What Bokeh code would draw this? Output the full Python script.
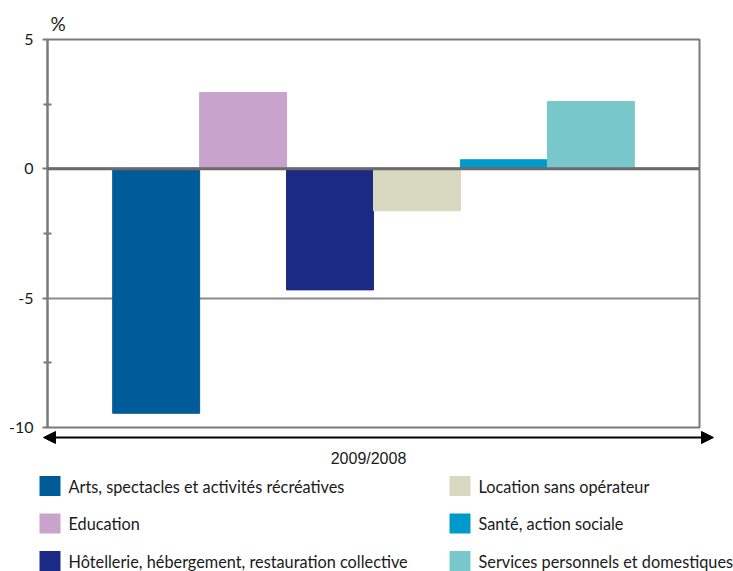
from bokeh.plotting import figure
from bokeh.layouts import column
from bokeh.models import Range1d, FixedTicker, Arrow, NormalHead, Span, ColumnDataSource
from bokeh.core.properties import value
from bokeh.embed import file_html
from bokeh.resources import INLINE

# ---- data ----
categories = [
    "Arts, spectacles et activités récréatives",
    "Education",
    "Hôtellerie, hébergement, restauration collective",
    "Location sans opérateur",
    "Santé, action sociale",
    "Services personnels et domestiques",
]
values = [-9.45, 2.95, -4.68, -1.62, 0.35, 2.6]
colors = ["#005c99", "#c8a4cc", "#1b2a84", "#d7d8c0", "#0099cc", "#78c7cb"]
y_ticks = [-10, -5, 0, 5]
period_label = "2009/2008"
unit_label = "%"

FONT = "Lato"
TOTAL_W, TOTAL_H = 733, 571
TOP_H = 442
OVERLAP = 12
FRAME_L, FRAME_R, FRAME_T, FRAME_B = 47, 699, 39, 427

# ---- main chart ----
src = ColumnDataSource(dict(x=list(range(len(values))), top=values, color=colors, cat=categories))

xr = Range1d(-1.25, len(values) + 0.25)
yr = Range1d(y_ticks[0], y_ticks[-1])
p = figure(width=TOTAL_W, height=TOP_H, x_range=xr, y_range=yr,
           output_backend="svg", toolbar_location=None, x_axis_location=None,
           min_border_left=FRAME_L, min_border_right=TOTAL_W - FRAME_R,
           min_border_top=FRAME_T, min_border_bottom=TOP_H - FRAME_B,
           title=unit_label, frame_align=False)
p.title.text_font = FONT
p.title.text_font_size = "19px"
p.title.text_font_style = "normal"
p.title.text_color = "#1a1a1a"
p.title.align = "left"
p.title.offset = 3
p.title.standoff = 10

p.vbar(x="x", top="top", bottom=0, width=1, color="color", source=src)

minor = [(a + b) / 2 for a, b in zip(y_ticks, y_ticks[1:])]
p.yaxis.ticker = FixedTicker(ticks=y_ticks, minor_ticks=minor)
p.yaxis.major_label_overrides = {t: str(t) for t in y_ticks}
p.yaxis.axis_line_color = "#7a7a7a"
p.yaxis.axis_line_width = 2
p.yaxis.major_tick_line_color = "#7a7a7a"
p.yaxis.major_tick_line_width = 2
p.yaxis.major_tick_in = 0
p.yaxis.major_tick_out = 5
p.yaxis.minor_tick_line_color = "#7a7a7a"
p.yaxis.minor_tick_line_width = 2
p.yaxis.minor_tick_in = 4
p.yaxis.minor_tick_out = 4
p.yaxis.major_label_text_font = FONT
p.yaxis.major_label_text_font_size = "16px"
p.yaxis.major_label_text_color = "#1a1a1a"
p.yaxis.major_label_standoff = 9

p.xgrid.visible = False
p.ygrid.grid_line_color = "#8a8a8a"
p.ygrid.grid_line_width = 2
p.outline_line_color = "#7a7a7a"
p.outline_line_width = 2
p.add_layout(Span(location=0, dimension="width", line_color="#6a6a6a", line_width=3))

# ---- bottom: arrow, period label, legend (coordinates = pixels from top of this panel) ----
top2 = TOP_H - OVERLAP          # page y where the lower panel starts
H = TOTAL_H - top2
q = figure(width=TOTAL_W, height=H, x_range=Range1d(0, TOTAL_W), y_range=Range1d(H, 0),
           output_backend="svg", toolbar_location=None,
           x_axis_location=None, y_axis_location=None, min_border=0,
           outline_line_color=None, frame_align=False,
           background_fill_color=None, border_fill_color=None)
q.margin = (-OVERLAP, 0, 0, 0)
q.grid.visible = False

q.add_layout(Arrow(start=NormalHead(size=12, fill_color="black", line_color="black"),
                   end=NormalHead(size=12, fill_color="black", line_color="black"),
                   x_start=43, y_start=437 - top2, x_end=713, y_end=437 - top2,
                   line_color="black", line_width=2))
q.text(x=[368], y=[458 - top2], text=[period_label], text_align="center", text_baseline="middle",
       text_font=value("Liberation Sans"), text_font_size="16px", text_color="#1a1a1a")

col_sq = [49.5, 459.5]
col_tx = [68, 478]
row_y = [485.5 - top2, 523 - top2, 560.5 - top2]
lx, ly, tx = [], [], []
for i in range(len(categories)):
    c, r = i // 3, i % 3
    lx.append(col_sq[c]); ly.append(row_y[r]); tx.append(col_tx[c])
leg = ColumnDataSource(dict(x=lx, y=ly, tx=tx, color=colors, label=categories))
q.rect(x="x", y="y", width=21, height=20, fill_color="color", line_color=None, source=leg)
q.text(x="tx", y="y", text="label", text_baseline="middle", text_align="left",
       text_font=value(FONT), text_font_size="16.3px", text_color="#1a1a1a", source=leg)

layout = column(p, q, spacing=0)
open("out.html", "w").write(file_html(layout, INLINE))
